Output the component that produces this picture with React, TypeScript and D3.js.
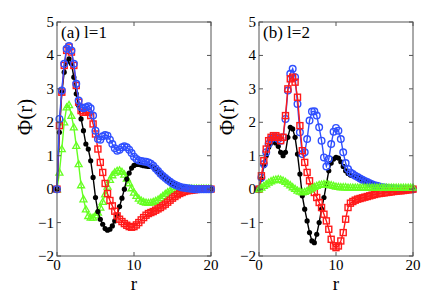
import React from 'react'
import * as d3 from 'd3'

// radial grid shared by every series
const rGrid = d3.range(0, 65).map(i => i * 0.3125)

// panel (a), l=1
const aBlue = [0, 2.1, 2.95, 3.75, 4.2, 4.28, 4.15, 3.75, 3.15, 2.65, 2.45, 2.42, 2.45, 2.48, 2.42, 2.2, 1.75, 1.5, 1.48, 1.58, 1.62, 1.6, 1.48, 1.35, 1.22, 1.15, 1.18, 1.25, 1.28, 1.25, 1.18, 1.08, 0.97, 0.9, 0.86, 0.84, 0.83, 0.82, 0.8, 0.76, 0.7, 0.62, 0.54, 0.46, 0.39, 0.33, 0.27, 0.22, 0.17, 0.13, 0.1, 0.07, 0.05, 0.04, 0.03, 0.02, 0.01, 0, 0, 0, 0, 0, 0, 0, 0]
const aRed = [0, 1.9, 2.9, 3.7, 4.15, 4.25, 4.1, 3.7, 3.1, 2.6, 2.35, 2.3, 2.3, 2.3, 2.2, 1.95, 1.65, 1.2, 0.8, 0.5, 0.17, -0.13, -0.34, -0.5, -0.66, -0.8, -0.9, -0.97, -1.03, -1.08, -1.12, -1.14, -1.12, -1.07, -1.0, -0.92, -0.85, -0.78, -0.73, -0.7, -0.67, -0.63, -0.59, -0.55, -0.5, -0.45, -0.39, -0.33, -0.27, -0.22, -0.17, -0.13, -0.1, -0.07, -0.05, -0.04, -0.03, -0.02, -0.01, 0, 0, 0, 0, 0, 0]
const aBlack = [0, 1.7, 2.9, 3.5, 3.8, 3.9, 3.75, 3.35, 2.85, 2.5, 2.1, 1.75, 1.35, 1.2, 0.85, 0.35, -0.25, -0.67, -0.9, -1.05, -1.18, -1.23, -1.2, -1.1, -0.95, -0.78, -0.52, -0.27, 0, 0.3, 0.48, 0.63, 0.71, 0.74, 0.74, 0.72, 0.7, 0.69, 0.68, 0.68, 0.66, 0.6, 0.53, 0.46, 0.39, 0.33, 0.27, 0.22, 0.17, 0.13, 0.1, 0.07, 0.05, 0.04, 0.03, 0.02, 0.01, 0, 0, 0, 0, 0, 0, 0, 0]
const aGreen = [0, 0.5, 1.2, 2.0, 2.45, 2.52, 2.2, 1.85, 1.3, 0.75, 0.12, -0.3, -0.6, -0.8, -0.85, -0.85, -0.78, -0.7, -0.55, -0.38, -0.15, 0.08, 0.28, 0.42, 0.5, 0.55, 0.56, 0.52, 0.44, 0.32, 0.18, 0.03, -0.1, -0.2, -0.28, -0.34, -0.38, -0.4, -0.41, -0.4, -0.38, -0.35, -0.31, -0.26, -0.2, -0.14, -0.09, -0.05, -0.02, 0, 0.01, 0.02, 0.02, 0.02, 0.02, 0.02, 0.02, 0.02, 0.02, 0.02, 0.02, 0.02, 0.02, 0.02, 0.02]

// panel (b), l=2
const bBlue = [0, 0.35, 0.75, 1.1, 1.35, 1.5, 1.55, 1.55, 1.5, 1.45, 1.55, 2.1, 2.95, 3.45, 3.6, 3.35, 2.55, 1.7, 1.05, 1.1, 1.5, 2.05, 2.32, 2.33, 2.2, 1.85, 1.45, 0.95, 0.68, 0.9, 1.35, 1.72, 1.83, 1.75, 1.5, 1.1, 0.78, 0.6, 0.5, 0.45, 0.4, 0.36, 0.32, 0.28, 0.24, 0.21, 0.18, 0.15, 0.12, 0.1, 0.08, 0.06, 0.05, 0.04, 0.03, 0.02, 0.02, 0.01, 0, 0, 0, 0, 0, 0, 0]
const bRed = [0, 0.4, 0.85, 1.2, 1.45, 1.55, 1.6, 1.6, 1.55, 1.45, 1.55, 2.2, 3.0, 3.3, 3.35, 3.2, 2.75, 1.9, 1.15, 0.8, 0.5, 0.25, 0.05, -0.1, -0.25, -0.4, -0.55, -0.75, -0.95, -1.2, -1.5, -1.7, -1.75, -1.7, -1.55, -1.3, -0.9, -0.55, -0.42, -0.37, -0.33, -0.3, -0.28, -0.26, -0.24, -0.22, -0.2, -0.18, -0.16, -0.14, -0.13, -0.12, -0.11, -0.1, -0.09, -0.08, -0.07, -0.06, -0.05, -0.05, -0.04, -0.03, -0.02, -0.01, 0]
const bBlack = [0, 0.3, 0.7, 1.0, 1.25, 1.38, 1.42, 1.38, 1.28, 1.1, 1.0, 1.1, 1.55, 1.85, 1.8, 1.55, 1.05, 0.45, -0.2, -0.6, -0.95, -1.3, -1.55, -1.6, -1.35, -1.0, -0.6, -0.25, 0.15, 0.55, 0.78, 0.9, 0.95, 0.93, 0.82, 0.68, 0.55, 0.47, 0.42, 0.4, 0.38, 0.35, 0.32, 0.28, 0.24, 0.21, 0.18, 0.15, 0.12, 0.1, 0.08, 0.06, 0.05, 0.04, 0.03, 0.02, 0.02, 0.01, 0, 0, 0, 0, 0, 0, 0]
const bGreen = [0, 0.05, 0.1, 0.15, 0.2, 0.24, 0.27, 0.29, 0.3, 0.29, 0.26, 0.22, 0.17, 0.12, 0.06, 0.01, -0.04, -0.07, -0.09, -0.08, -0.05, -0.01, 0.03, 0.07, 0.1, 0.13, 0.14, 0.15, 0.15, 0.14, 0.12, 0.1, 0.08, 0.07, 0.06, 0.06, 0.06, 0.05, 0.05, 0.05, 0.05, 0.05, 0.05, 0.05, 0.05, 0.05, 0.05, 0.05, 0.05, 0.05, 0.05, 0.05, 0.05, 0.05, 0.05, 0.05, 0.05, 0.05, 0.05, 0.05, 0.05, 0.05, 0.05, 0.05, 0.05]

const xTicks = [0, 10, 20]
const yTicks = [-2, -1, 0, 1, 2, 3, 4, 5]

const BLUE = '#3050ff'
const RED = '#ff1a1a'
const BLACK = '#000000'
const GREEN = '#66ff22'

type Series = { vals: number[]; color: string; marker: 'circle' | 'square' | 'dot' | 'tri' }

const panels = [
  {
    label: '(a) l=1', left: 57,
    series: [
      { vals: aGreen, color: GREEN, marker: 'tri' },
      { vals: aBlack, color: BLACK, marker: 'dot' },
      { vals: aRed, color: RED, marker: 'square' },
      { vals: aBlue, color: BLUE, marker: 'circle' },
    ] as Series[],
  },
  {
    label: '(b) l=2', left: 259,
    series: [
      { vals: bBlack, color: BLACK, marker: 'dot' },
      { vals: bBlue, color: BLUE, marker: 'circle' },
      { vals: bRed, color: RED, marker: 'square' },
      { vals: bGreen, color: GREEN, marker: 'tri' },
    ] as Series[],
  },
]

const W = 436, H = 297
const top = 22, bottom = 256, pw = 154
const font = 'Liberation Serif, DejaVu Serif, Times New Roman, serif'
const axisColor = '#555'

function Marker({ kind, x, y, color }: { kind: string; x: number; y: number; color: string }) {
  if (kind === 'circle') return <circle cx={x} cy={y} r={3.3} fill="none" stroke={color} strokeWidth={1.4} />
  if (kind === 'square') return <rect x={x - 3} y={y - 3} width={6} height={6} fill="none" stroke={color} strokeWidth={1.4} />
  if (kind === 'dot') return <circle cx={x} cy={y} r={2.6} fill={color} />
  const s = 3.5
  return <path d={`M${x},${y - s}L${x + s},${y + s * 0.75}L${x - s},${y + s * 0.75}Z`} fill="none" stroke={color} strokeWidth={1.3} />
}

function Panel({ p }: { p: typeof panels[number] }) {
  const x = d3.scaleLinear().domain([0, 20]).range([p.left, p.left + pw])
  const y = d3.scaleLinear().domain([-2, 5]).range([bottom, top])
  const line = d3.line<number>().x((_, i) => x(rGrid[i])).y(v => y(v))
  const tl = 4
  return (
    <g>
      <defs>
        <clipPath id={`clip${p.left}`}>
          <rect x={p.left - 4} y={top} width={pw + 8} height={bottom - top} />
        </clipPath>
      </defs>
      <g clipPath={`url(#clip${p.left})`}>
        {p.series.map((s, si) => (
          <g key={si}>
            <path d={line(s.vals) || ''} fill="none" stroke={s.color} strokeWidth={1.4} />
            {s.vals.map((v, i) => (
              <Marker key={i} kind={s.marker} x={x(rGrid[i])} y={y(v)} color={s.color} />
            ))}
          </g>
        ))}
      </g>
      <rect x={p.left} y={top} width={pw} height={bottom - top} fill="none" stroke={axisColor} strokeWidth={1} />
      {yTicks.map(t => (
        <g key={t}>
          <line x1={p.left} x2={p.left + tl} y1={y(t)} y2={y(t)} stroke={axisColor} />
          <line x1={p.left + pw} x2={p.left + pw - tl} y1={y(t)} y2={y(t)} stroke={axisColor} />
          <text x={p.left - 3} y={y(t) + 5} textAnchor="end" fontSize={15} fontFamily={font}>{t < 0 ? `\u2212${-t}` : t}</text>
        </g>
      ))}
      {xTicks.map(t => (
        <g key={t}>
          <line x1={x(t)} x2={x(t)} y1={bottom} y2={bottom - tl} stroke={axisColor} />
          <line x1={x(t)} x2={x(t)} y1={top} y2={top + tl} stroke={axisColor} />
          <text x={x(t)} y={bottom + 14} textAnchor="middle" fontSize={15} fontFamily={font}>{t}</text>
        </g>
      ))}
      <text x={p.left + 4} y={top + 16} fontSize={17} fontFamily={font}>{p.label}</text>
      <text x={x(10)} y={290} textAnchor="middle" fontSize={19} fontFamily={font}>r</text>
      <text transform={`translate(${p.left - 25},${(top + bottom) / 2 - 22}) rotate(-90)`} textAnchor="middle" fontSize={21} fontFamily={font}>Φ(r)</text>
    </g>
  )
}

export default function App() {
  return (
    <svg width={W} height={H} style={{ position: 'absolute', left: 0, top: 0, background: '#fff' }}>
      {panels.map(p => <Panel key={p.left} p={p} />)}
    </svg>
  )
}
